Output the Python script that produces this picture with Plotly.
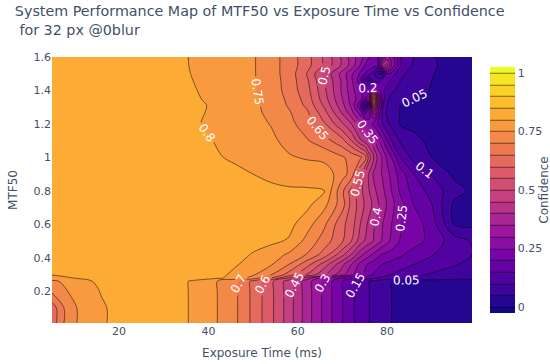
import plotly.graph_objects as go

exposure_ms = [5,8,11,16,25,35,36,42,46,50,54,58,62,66,70,72,74,75,76,77,78,79,80,81,83,86,90,95,99]
mtf50 = [0.01,0.1,0.2,0.26,0.28,0.3,0.36,0.42,0.5,0.6,0.72,0.8,0.9,1.0,1.1,1.2,1.27,1.31,1.35,1.4,1.46,1.5,1.55,1.6]

confidence = [
 [.62,.71,.757,.795,.83,.805,.795,.75,.71,.637,.563,.475,.375,.285,.2,.16,.129,.115,.1,.09,.08,.07,.06,.05,.04,.035,.03,.03,.03],
 [.62,.71,.757,.795,.83,.805,.795,.75,.71,.637,.563,.475,.375,.285,.2,.16,.129,.115,.1,.09,.08,.07,.06,.05,.04,.035,.03,.03,.03],
 [.71,.745,.775,.802,.83,.805,.795,.75,.71,.637,.563,.475,.375,.285,.2,.16,.129,.115,.1,.09,.08,.07,.06,.05,.04,.035,.03,.03,.03],
 [.74,.76,.785,.81,.83,.805,.795,.75,.71,.637,.563,.475,.375,.285,.2,.16,.129,.115,.1,.09,.08,.07,.06,.05,.04,.035,.03,.03,.03],
 [.785,.795,.805,.825,.83,.83,.83,.81,.781,.731,.65,.55,.43,.33,.25,.22,.19,.18,.17,.16,.15,.14,.13,.125,.105,.09,.08,.07,.06],
 [.803,.81,.82,.83,.83,.83,.83,.815,.788,.757,.705,.63,.548,.457,.368,.312,.265,.243,.22,.195,.185,.172,.16,.15,.135,.113,.095,.085,.075],
 [.83,.83,.83,.83,.83,.83,.83,.825,.805,.78,.755,.7,.62,.525,.41,.35,.285,.26,.24,.225,.21,.197,.19,.18,.17,.15,.125,.103,.09],
 [.83,.83,.83,.83,.83,.83,.83,.83,.815,.797,.775,.743,.698,.628,.515,.45,.37,.34,.315,.29,.265,.245,.238,.23,.21,.175,.153,.125,.1],
 [.83,.83,.83,.83,.83,.83,.83,.83,.825,.815,.81,.795,.735,.675,.605,.55,.475,.448,.423,.397,.37,.34,.313,.288,.245,.225,.18,.125,.095],
 [.83,.83,.83,.83,.83,.83,.83,.83,.83,.825,.82,.815,.772,.708,.612,.575,.5,.467,.435,.405,.378,.35,.325,.3,.25,.225,.175,.048,.04],
 [.83,.83,.83,.83,.83,.83,.83,.83,.83,.83,.825,.82,.815,.765,.67,.585,.525,.495,.47,.435,.405,.375,.345,.315,.265,.198,.15,.04,.03],
 [.83,.83,.83,.83,.83,.83,.83,.83,.83,.82,.81,.805,.805,.8,.66,.58,.515,.485,.45,.415,.385,.36,.33,.3,.24,.18,.13,.07,.04],
 [.83,.83,.83,.83,.83,.83,.83,.825,.815,.8,.79,.785,.78,.78,.72,.68,.55,.495,.44,.39,.365,.345,.315,.285,.225,.15,.095,.04,.03],
 [.83,.83,.83,.83,.83,.83,.83,.805,.79,.775,.765,.755,.745,.735,.705,.685,.66,.63,.525,.45,.385,.34,.29,.25,.15,.08,.05,.035,.03],
 [.83,.83,.83,.83,.83,.83,.825,.795,.785,.77,.76,.735,.705,.67,.615,.55,.46,.43,.4,.355,.31,.26,.2,.15,.09,.06,.04,.035,.03],
 [.83,.83,.83,.83,.83,.815,.81,.785,.775,.765,.748,.715,.675,.605,.505,.45,.36,.31,.27,.235,.195,.15,.11,.085,.045,.04,.035,.03,.03],
 [.83,.83,.83,.83,.83,.82,.812,.79,.77,.76,.74,.705,.66,.565,.44,.365,.275,.18,.22,.38,.25,.14,.09,.075,.048,.045,.04,.03,.03],
 [.83,.83,.83,.83,.83,.82,.815,.79,.77,.76,.735,.695,.64,.54,.415,.34,.2,.04,.2,.55,.3,.15,.1,.08,.05,.045,.04,.03,.03],
 [.83,.83,.83,.83,.83,.815,.81,.785,.77,.76,.73,.69,.63,.52,.4,.33,.27,.22,.35,.72,.38,.18,.11,.085,.07,.05,.04,.03,.03],
 [.83,.83,.83,.83,.83,.81,.805,.785,.77,.755,.73,.68,.62,.51,.39,.32,.26,.22,.2,.35,.22,.16,.13,.11,.085,.07,.045,.03,.03],
 [.83,.83,.83,.83,.83,.807,.802,.78,.77,.755,.725,.68,.61,.5,.39,.31,.22,.12,.04,.14,.12,.18,.17,.14,.1,.08,.05,.03,.03],
 [.83,.83,.83,.83,.83,.805,.8,.78,.77,.755,.72,.68,.6,.49,.38,.31,.24,.2,.17,.12,.05,.04,.2,.18,.11,.08,.052,.035,.03],
 [.83,.83,.83,.83,.83,.805,.797,.778,.767,.755,.72,.68,.62,.54,.44,.38,.3,.25,.23,.22,.2,.38,.42,.3,.15,.09,.055,.035,.03],
 [.83,.83,.83,.83,.83,.805,.795,.775,.765,.755,.72,.68,.62,.54,.44,.38,.32,.28,.25,.22,.2,.25,.32,.28,.15,.1,.053,.035,.03],
]

font_family = "DejaVu Sans"
fig = go.Figure(go.Contour(
    x=exposure_ms, y=mtf50, z=confidence,
    colorscale="Plasma", zmin=-0.025, zmax=1.025,
    contours=dict(start=0, end=1, size=0.05, coloring="fill", showlabels=True,
                  labelfont=dict(family=font_family, size=12, color="white")),
    line=dict(width=0.5),
    colorbar=dict(title=dict(text="Confidence", side="right", font=dict(size=12)), thickness=25,
                  tick0=0, dtick=0.25, tickformat="~g", outlinewidth=0, tickfont=dict(size=11)),
))
fig.update_layout(
    width=550, height=364,
    font=dict(family=font_family, color="#3f5068"),
    margin=dict(l=52, r=78, t=57, b=41, autoexpand=False),
    title=dict(text="System Performance Map of MTF50 vs Exposure Time vs Confidence<br> for 32 px @0blur",
               x=0.027, xanchor="left", y=0.955, yanchor="top", font=dict(size=14.3)),
    xaxis=dict(title=dict(text="Exposure Time (ms)", standoff=11, font=dict(size=12)), range=[5, 99], dtick=20,
               tickfont=dict(size=11), automargin=False),
    yaxis=dict(title=dict(text="MTF50", standoff=13, font=dict(size=12)), range=[0.01, 1.6], dtick=0.2,
               tickfont=dict(size=11), automargin=False),
)
fig.write_html("out.html", post_script="document.body.style.margin='0';", config=dict(displayModeBar=False))
